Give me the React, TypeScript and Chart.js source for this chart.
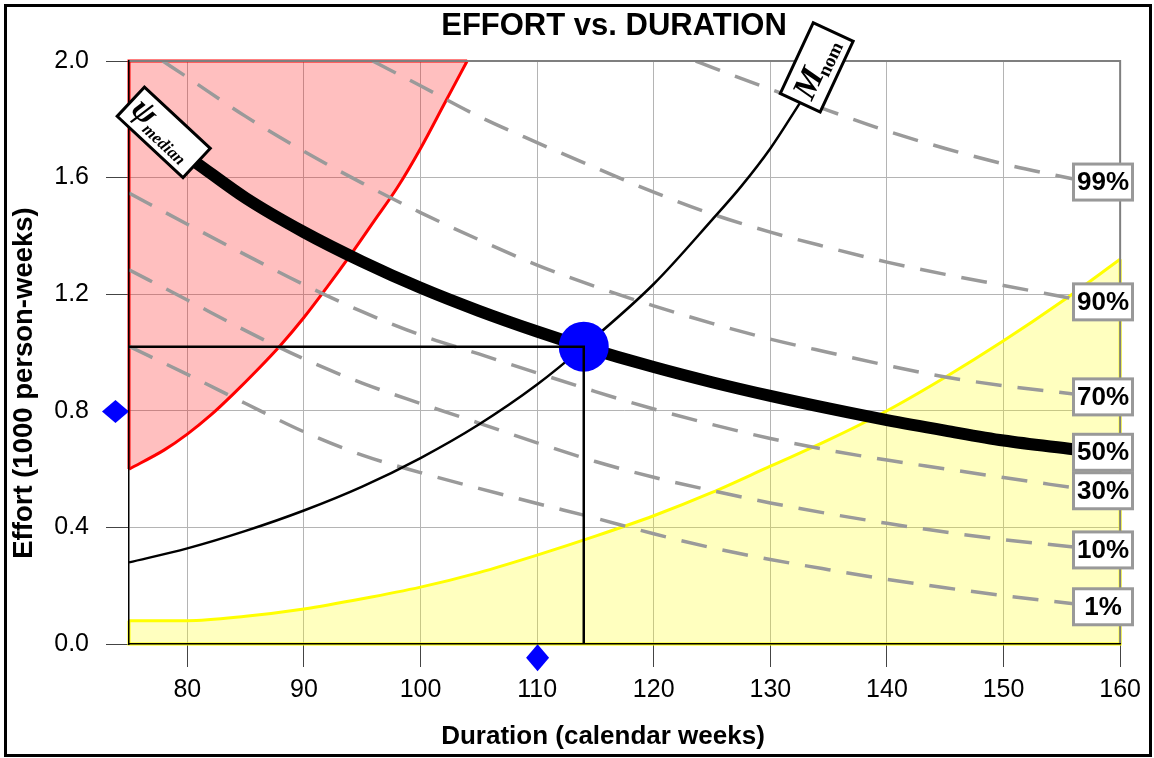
import React, { useEffect, useRef } from 'react';
import { Chart, registerables } from 'chart.js';

Chart.register(...registerables);

// ---- axis ticks ----
const xTicks = [80, 90, 100, 110, 120, 130, 140, 150, 160];
const yTicks = [0, 0.4, 0.8, 1.2, 1.6, 2.0];

// ---- text ----
const titleText = 'EFFORT vs. DURATION';
const xTitleText = 'Duration (calendar weeks)';
const yTitleText = 'Effort (1000 person-weeks)';
const percentLabels = ['99%', '90%', '70%', '50%', '30%', '10%', '1%'];

// ---- infeasible (red) region boundary ----
const redX = [75, 78, 80, 82, 84, 86, 88, 90, 92, 94, 96, 98, 100, 102, 104];
const redY = [0.6, 0.665, 0.72, 0.785, 0.86, 0.94, 1.025, 1.12, 1.225, 1.335, 1.45, 1.565, 1.7, 1.85, 2.0];

// ---- yellow region boundary ----
const yellowX = [75, 80, 85, 90, 95, 100, 105, 110, 115, 120, 125, 130, 135, 140, 145, 150, 155, 160];
const yellowY = [0.08, 0.08, 0.095, 0.12, 0.155, 0.195, 0.245, 0.305, 0.37, 0.44, 0.52, 0.61, 0.7, 0.8, 0.915, 1.04, 1.175, 1.32];

// ---- M_nom curve ----
const mnomX = [75, 80, 85, 90, 95, 100, 105, 110, 114, 120, 125, 127.5, 130, 132.6];
const mnomY = [0.28, 0.328, 0.388, 0.458, 0.54, 0.638, 0.753, 0.89, 1.02, 1.235, 1.455, 1.57, 1.7, 1.86];

// ---- percentile curves ----
const p99X = [123.6, 125, 130, 135, 140, 145, 150, 156];
const p99Y = [2.0, 1.978, 1.903, 1.83, 1.76, 1.7, 1.647, 1.595];

const p90X = [95.9, 100, 105, 110, 115, 120, 125, 130, 135, 140, 145, 150, 156];
const p90Y = [2.0, 1.915, 1.81, 1.72, 1.634, 1.55, 1.475, 1.413, 1.36, 1.31, 1.268, 1.23, 1.184];

const p70X = [77.9, 80, 85, 90, 95, 100, 105, 110, 115, 120, 125, 130, 135, 140, 145, 150, 156];
const p70Y = [2.0, 1.944, 1.81, 1.69, 1.581, 1.48, 1.387, 1.3, 1.226, 1.16, 1.1, 1.046, 1.0, 0.956, 0.916, 0.886, 0.858];

const p50X = [80.8, 85, 90, 95, 100, 105, 110, 114, 120, 125, 130, 135, 140, 145, 150, 156];
const p50Y = [1.65, 1.53, 1.413, 1.312, 1.222, 1.143, 1.072, 1.02, 0.95, 0.898, 0.851, 0.808, 0.768, 0.732, 0.698, 0.668];

const lowX = [75, 80, 85, 90, 95, 100, 105, 110, 115, 120, 125, 130, 135, 140, 145, 150, 156];
const p30Y = [1.547, 1.44, 1.335, 1.233, 1.14, 1.06, 0.995, 0.93, 0.866, 0.806, 0.753, 0.705, 0.665, 0.631, 0.601, 0.571, 0.536];
const p10Y = [1.284, 1.18, 1.075, 0.978, 0.895, 0.825, 0.758, 0.69, 0.626, 0.572, 0.526, 0.484, 0.447, 0.414, 0.384, 0.358, 0.333];
const p1Y = [1.021, 0.925, 0.825, 0.728, 0.648, 0.588, 0.534, 0.482, 0.432, 0.378, 0.33, 0.29, 0.255, 0.222, 0.193, 0.166, 0.138];

// ---- nominal solution & reference lines ----
const solX = [114];
const solY = [1.02];
const refX = [75, 114, 114];
const refY = [1.02, 1.02, 0];
// markers on the axes (y-axis marker, x-axis marker)
const diamondX = [73.84, 110.04];
const diamondY = [0.798, -0.047];

const SANS = '"Liberation Sans", Arial, Helvetica, sans-serif';
const SERIF = '"Liberation Serif", "Times New Roman", serif';

const pts = (xs: number[], ys: number[]) => xs.map((x, i) => ({ x, y: ys[i] }));

const overlayPlugin = {
  id: 'overlay',
  afterDatasetsDraw(chart: any) {
    const { ctx, chartArea: a, scales } = chart;
    ctx.save();
    ctx.strokeStyle = '#7f7f7f';
    ctx.lineWidth = 2;
    ctx.beginPath();
    ctx.moveTo(a.left, a.top);
    ctx.lineTo(a.right, a.top);
    ctx.lineTo(a.right, a.bottom);
    ctx.stroke();

    // axis markers (diamonds), elongated perpendicular to their axis
    ctx.fillStyle = '#0000ff';
    diamondX.forEach((dx, i) => {
      const px = scales.x.getPixelForValue(dx);
      const py = scales.y.getPixelForValue(diamondY[i]);
      const hw = i === 0 ? 13.5 : 11.5;
      const hh = i === 0 ? 11.5 : 13.5;
      ctx.beginPath();
      ctx.moveTo(px, py - hh);
      ctx.lineTo(px + hw, py);
      ctx.lineTo(px, py + hh);
      ctx.lineTo(px - hw, py);
      ctx.closePath();
      ctx.fill();
    });
    ctx.restore();
  },
  afterDraw(chart: any) {
    const { ctx } = chart;

    // percent labels at line ends
    chart.data.datasets.forEach((ds: any, i: number) => {
      if (!ds.pct) return;
      const meta = chart.getDatasetMeta(i);
      const last = meta.data[meta.data.length - 1];
      const x = last.x;
      const y = last.y + 3;
      ctx.save();
      ctx.fillStyle = '#ffffff';
      ctx.fillRect(x, y - 18, 59, 36);
      ctx.strokeStyle = '#999999';
      ctx.lineWidth = 3;
      ctx.strokeRect(x, y - 18, 59, 36);
      ctx.fillStyle = '#000000';
      ctx.font = `bold 26px ${SANS}`;
      ctx.textAlign = 'center';
      ctx.textBaseline = 'middle';
      ctx.fillText(ds.pct, x + 29.5, y + 1);
      ctx.restore();
    });

    chart.data.datasets.forEach((ds: any, i: number) => {
      // psi_median label at start of median curve
      if (ds.tag === 'median') {
        const p = chart.getDatasetMeta(i).data[0];
        const ang = (43 * Math.PI) / 180;
        const cx = p.x - 45 * Math.cos(ang);
        const cy = p.y - 45 * Math.sin(ang);
        ctx.save();
        ctx.translate(cx, cy);
        ctx.rotate(ang);
        ctx.fillStyle = '#fff';
        ctx.fillRect(-45, -20, 90, 40);
        ctx.strokeStyle = '#000';
        ctx.lineWidth = 3;
        ctx.strokeRect(-45, -20, 90, 40);
        ctx.fillStyle = '#000';
        ctx.textBaseline = 'alphabetic';
        ctx.textAlign = 'left';
        ctx.font = `italic bold 34px ${SERIF}`;
        const w1 = ctx.measureText('ψ').width;
        ctx.font = `italic bold 17px ${SERIF}`;
        const w2 = ctx.measureText('median').width;
        const start = -(w1 + w2) / 2 - 2;
        ctx.font = `italic bold 34px ${SERIF}`;
        ctx.fillText('ψ', start, 8);
        ctx.font = `italic bold 17px ${SERIF}`;
        ctx.fillText('median', start + w1 - 1, 14);
        ctx.restore();
      }
      // M_nom label at end of M_nom curve
      if (ds.tag === 'mnom') {
        const meta = chart.getDatasetMeta(i);
        const p = meta.data[meta.data.length - 1];
        const ang = (-65 * Math.PI) / 180;
        const cx = p.x + 38 * Math.cos(ang);
        const cy = p.y + 38 * Math.sin(ang);
        ctx.save();
        ctx.translate(cx, cy);
        ctx.rotate(ang);
        ctx.fillStyle = '#fff';
        ctx.fillRect(-39, -22, 78, 44);
        ctx.strokeStyle = '#000';
        ctx.lineWidth = 3;
        ctx.strokeRect(-39, -22, 78, 44);
        ctx.fillStyle = '#000';
        ctx.textBaseline = 'alphabetic';
        ctx.textAlign = 'left';
        ctx.font = `italic bold 34px ${SERIF}`;
        const w1 = ctx.measureText('M').width;
        ctx.font = `bold 19px ${SERIF}`;
        const w2 = ctx.measureText('nom').width;
        const start = -(w1 + w2) / 2;
        ctx.font = `italic bold 34px ${SERIF}`;
        ctx.fillText('M', start, 10);
        ctx.font = `bold 19px ${SERIF}`;
        ctx.fillText('nom', start + w1 - 2, 15);
        ctx.restore();
      }
    });

    // titles
    ctx.save();
    ctx.fillStyle = '#000';
    ctx.textAlign = 'center';
    ctx.textBaseline = 'middle';
    ctx.font = `bold 31px ${SANS}`;
    ctx.fillText(titleText, 607, 19);
    ctx.font = `bold 26px ${SANS}`;
    ctx.fillText(xTitleText, 596, 730);
    ctx.font = `bold 27.5px ${SANS}`;
    ctx.translate(17, 376);
    ctx.rotate(-Math.PI / 2);
    ctx.fillText(yTitleText, 0, 0);
    ctx.restore();
  },
};

export default function App() {
  const ref = useRef<HTMLCanvasElement>(null);

  useEffect(() => {
    if (!ref.current) return;
    const dashed = (xs: number[], ys: number[], pct: string) => ({
      data: pts(xs, ys),
      pct,
      borderColor: '#9a9a9a',
      borderWidth: 3.5,
      borderDash: [26, 16],
      pointRadius: 0,
      fill: false,
      order: 10,
    });

    const datasets: any[] = [
      {
        data: pts(yellowX, yellowY),
        borderColor: '#ffff00',
        borderWidth: 3,
        backgroundColor: 'rgba(255,255,0,0.25)',
        fill: 'origin',
        pointRadius: 0,
        order: 20,
      },
      {
        data: [
          { x: yellowX[0], y: yellowY[0] },
          { x: yellowX[0], y: 0 },
          { x: yellowX[yellowX.length - 1], y: 0 },
          { x: yellowX[yellowX.length - 1], y: yellowY[yellowY.length - 1] },
        ],
        borderColor: '#ffff00',
        borderWidth: 3,
        fill: false,
        pointRadius: 0,
        tension: 0,
        cubicInterpolationMode: 'default',
        clip: 6,
        order: 19,
      },
      {
        data: pts(redX, redY),
        borderColor: '#ff0000',
        borderWidth: 3,
        backgroundColor: 'rgba(255,0,0,0.25)',
        fill: 'end',
        pointRadius: 0,
        clip: 6,
        order: 18,
      },
      {
        data: [
          { x: redX[0], y: redY[0] },
          { x: redX[0], y: 2.0 },
          { x: redX[redX.length - 1], y: 2.0 },
        ],
        borderColor: '#ff0000',
        borderWidth: 3,
        fill: false,
        pointRadius: 0,
        tension: 0,
        cubicInterpolationMode: 'default',
        clip: 6,
        order: 17,
      },
      dashed(p99X, p99Y, percentLabels[0]),
      dashed(p90X, p90Y, percentLabels[1]),
      dashed(p70X, p70Y, percentLabels[2]),
      dashed(lowX, p30Y, percentLabels[4]),
      dashed(lowX, p10Y, percentLabels[5]),
      dashed(lowX, p1Y, percentLabels[6]),
      {
        data: pts(mnomX, mnomY),
        tag: 'mnom',
        borderColor: '#000000',
        borderWidth: 2.5,
        fill: false,
        pointRadius: 0,
        clip: false,
        order: 8,
      },
      {
        data: pts(p50X, p50Y),
        tag: 'median',
        pct: percentLabels[3],
        borderColor: '#000000',
        borderWidth: 12,
        fill: false,
        pointRadius: 0,
        order: 6,
      },
      {
        data: pts(solX, solY),
        showLine: false,
        pointRadius: 25,
        pointBackgroundColor: '#0000ff',
        pointBorderColor: '#0000ff',
        pointBorderWidth: 0,
        order: 5,
      },
      {
        data: pts(refX, refY),
        borderColor: '#000000',
        borderWidth: 2.5,
        fill: false,
        pointRadius: 0,
        tension: 0,
        cubicInterpolationMode: 'default',
        order: 4,
      },
    ];

    const chart = new Chart(ref.current, {
      type: 'line',
      data: { datasets },
      options: {
        responsive: false,
        animation: false,
        events: [],
        layout: { padding: { top: 54, right: 28, left: 0, bottom: 0 } },
        plugins: {
          legend: { display: false },
          tooltip: { enabled: false },
          title: { display: false },
        },
        elements: {
          point: { radius: 0 },
          line: { cubicInterpolationMode: 'monotone' },
        },
        scales: {
          x: {
            type: 'linear',
            min: 75,
            max: 160,
            afterBuildTicks: (s: any) => {
              s.ticks = xTicks.map((v) => ({ value: v }));
            },
            afterFit: (s: any) => {
              s.height = 110;
            },
            ticks: {
              autoSkip: false,
              maxRotation: 0,
              padding: 8,
              color: '#000',
              font: { family: SANS, size: 25 },
              callback: (v: any) => String(v),
            },
            grid: { color: '#b4b4b4', lineWidth: 1, tickLength: 23, tickColor: '#444' },
            border: { color: '#000', width: 1.5, z: 1 },
          },
          y: {
            type: 'linear',
            min: 0,
            max: 2,
            afterBuildTicks: (s: any) => {
              s.ticks = yTicks.map((v) => ({ value: v }));
            },
            afterFit: (s: any) => {
              s.width = 122;
            },
            ticks: {
              padding: 17,
              color: '#000',
              font: { family: SANS, size: 25 },
              callback: (v: any) => Number(v).toFixed(1),
            },
            grid: { color: '#b4b4b4', lineWidth: 1, tickLength: 23, tickColor: '#444' },
            border: { color: '#000', width: 1.5, z: 1 },
          },
        },
      } as any,
      plugins: [overlayPlugin],
    });
    return () => chart.destroy();
  }, []);

  return (
    <div
      style={{
        position: 'absolute',
        left: 4,
        top: 4,
        width: 1148,
        height: 753,
        border: '3px solid #000',
        boxSizing: 'border-box',
        background: '#fff',
      }}
    >
      <canvas ref={ref} width={1142} height={747} style={{ display: 'block' }} />
    </div>
  );
}
